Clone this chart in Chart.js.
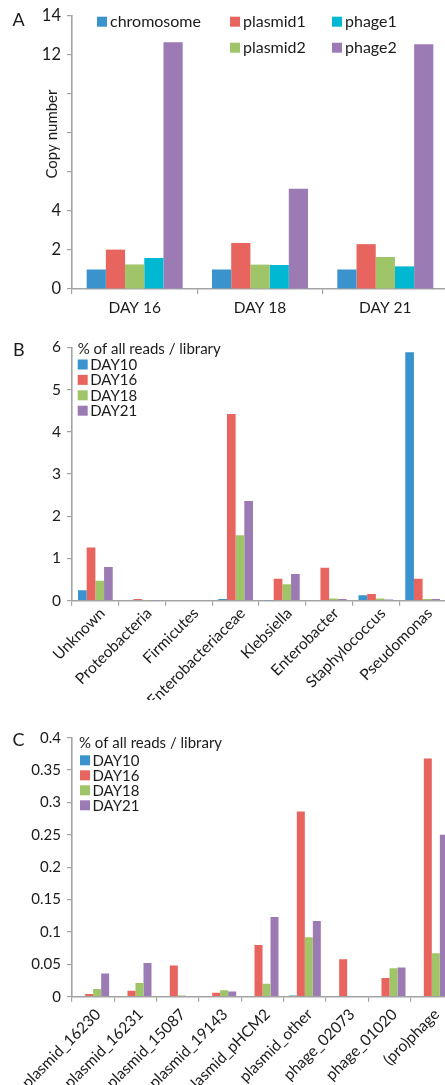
<!DOCTYPE html>
<html>
<head>
<meta charset="utf-8">
<script src="https://cdn.jsdelivr.net/npm/chart.js@4.4.1/dist/chart.umd.min.js"></script>
<style>
  html, body { margin: 0; padding: 0; background: #fff; width: 445px; height: 1085px; overflow: hidden; }
  .panel { position: absolute; left: 0; width: 445px; overflow: hidden; }
  canvas { display: block; }
</style>
</head>
<body>
<div class="panel" style="top:0;height:330px"><canvas id="copyChart" width="448" height="330"></canvas></div>
<div class="panel" style="top:330px;height:370px"><canvas id="taxaChart" width="446" height="370"></canvas></div>
<div class="panel" style="top:700px;height:385px"><canvas id="elemChart" width="453" height="385"></canvas></div>
<script>
// ---- Panel A: copy number per sampling day ----
const copyDays = ['DAY 16', 'DAY 18', 'DAY 21'];
const chromosome = [1.0, 1.0, 1.0];
const plasmid1 = [2.02, 2.36, 2.30];
const plasmid2 = [1.26, 1.25, 1.64];
const phage1 = [1.59, 1.23, 1.16];
const phage2 = [12.65, 5.14, 12.55];
const copyTickLabels = ['0', '2', '4', '12', '14'];

// ---- Panel B: taxa, % of all reads per library ----
const taxa = ['Unknown', 'Proteobacteria', 'Firmicutes', 'Enterobacteriaceae', 'Klebsiella', 'Enterobacter', 'Staphylococcus', 'Pseudomonas'];
const taxaDay10 = [0.25, 0, 0, 0.04, 0.01, 0, 0.13, 5.88];
const taxaDay16 = [1.26, 0.04, 0, 4.42, 0.52, 0.78, 0.16, 0.52];
const taxaDay18 = [0.47, 0.01, 0, 1.55, 0.39, 0.05, 0.05, 0.04];
const taxaDay21 = [0.80, 0.01, 0, 2.36, 0.63, 0.04, 0.03, 0.04];

// ---- Panel C: mobile elements, % of all reads per library ----
const elements = ['plasmid_16230', 'plasmid_16231', 'plasmid_15087', 'plasmid_19143', 'plasmid_pHCM2', 'plasmid_other', 'phage_02073', 'phage_01020', '(pro)phage'];
const elemDay10 = [0, 0, 0, 0, 0, 0.002, 0, 0, 0];
const elemDay16 = [0.004, 0.009, 0.048, 0.006, 0.080, 0.286, 0.058, 0.029, 0.368];
const elemDay18 = [0.012, 0.021, 0.002, 0.010, 0.020, 0.092, 0, 0.044, 0.067];
const elemDay21 = [0.036, 0.052, 0, 0.008, 0.123, 0.117, 0, 0.045, 0.250];

const dayLabels = ['DAY10', 'DAY16', 'DAY18', 'DAY21'];
const legendTitle = '% of all reads / library';

const C = {
  blue: '#3a93cc', red: '#e8655f', green: '#a0c468', cyan: '#00b8d2', purple: '#9c7bb5',
  axis: '#a3a3a3', text: '#1c1a1b'
};
const FAMILY = 'Lato, "Open Sans", sans-serif';

Chart.defaults.font.family = FAMILY;

// Panel letter, free-placed axis title and a slot-based legend
const panelDecor = {
  id: 'panelDecor',
  afterDraw(chart, args, o) {
    const ctx = chart.ctx;
    ctx.save();
    ctx.fillStyle = C.text;
    ctx.textAlign = 'left';
    ctx.textBaseline = 'alphabetic';
    ctx.font = '18px ' + FAMILY;
    ctx.fillText(o.letter, o.letterX, o.letterY);
    if (o.axisTitle) {
      ctx.save();
      ctx.font = o.axisTitle.font;
      ctx.translate(o.axisTitle.x, o.axisTitle.y);
      ctx.rotate(-Math.PI / 2);
      ctx.textAlign = 'center';
      ctx.textBaseline = 'middle';
      ctx.fillText(o.axisTitle.text, 0, 0);
      ctx.restore();
    }
    const L = o.legend;
    ctx.font = L.font;
    ctx.textBaseline = 'middle';
    if (L.title) ctx.fillText(L.title, L.titleX, L.titleY);
    chart.data.datasets.forEach((ds, i) => {
      const [col, row] = L.slots[i];
      const x = L.cols[col];
      const y = L.top + row * L.rowGap;
      ctx.fillStyle = ds.backgroundColor;
      ctx.fillRect(x, y - L.box / 2, L.box, L.box);
      ctx.fillStyle = C.text;
      ctx.fillText(ds.label, x + L.box + L.gap, y + 0.5);
    });
    ctx.restore();
  }
};

function axisStyle(extra) {
  return Object.assign({
    border: { display: true, color: C.axis, width: 1.6 },
    grid: { display: true, drawOnChartArea: false, drawTicks: true, tickLength: 5, color: C.axis, lineWidth: 1.2 }
  }, extra);
}

function barChart(id, labels, datasets, cfg) {
  const xTicks = {
    autoSkip: false,
    maxRotation: cfg.rotation, minRotation: cfg.rotation,
    padding: cfg.xPad,
    font: { size: cfg.xFont },
    color: C.text
  };
  if (cfg.xShift) xTicks.labelOffset = cfg.xShift;
  return new Chart(document.getElementById(id), {
    type: 'bar',
    data: { labels, datasets },
    options: {
      responsive: false,
      animation: false,
      devicePixelRatio: 1,
      layout: { padding: { top: cfg.top, right: 0, bottom: 0, left: 0 } },
      datasets: { bar: { categoryPercentage: cfg.catPct, barPercentage: 1, borderWidth: 0 } },
      plugins: {
        legend: { display: false },
        tooltip: { enabled: false },
        panelDecor: cfg.decor
      },
      scales: {
        x: axisStyle({
          afterFit: (s) => { s.height = cfg.xHeight; },
          ticks: xTicks
        }),
        y: axisStyle({
          min: 0, max: cfg.max,
          afterFit: (s) => { s.width = 72; },
          ticks: {
            stepSize: cfg.step,
            padding: 6,
            font: { size: cfg.yFont },
            color: C.text,
            callback: cfg.yFormat
          }
        })
      }
    },
    plugins: [panelDecor]
  });
}

// Panel A
barChart('copyChart', copyDays, [
  { label: 'chromosome', data: chromosome, backgroundColor: C.blue },
  { label: 'plasmid1', data: plasmid1, backgroundColor: C.red },
  { label: 'plasmid2', data: plasmid2, backgroundColor: C.green },
  { label: 'phage1', data: phage1, backgroundColor: C.cyan },
  { label: 'phage2', data: phage2, backgroundColor: C.purple }
], {
  top: 16, xHeight: 41, catPct: 0.766, rotation: 0, xPad: 5, xShift: 0, xFont: 15.5,
  max: 14, step: 2, yFont: 16.5,
  yFormat: (v) => (copyTickLabels.includes(String(v)) ? String(v) : ''),
  decor: {
    letter: 'A', letterX: 12.5, letterY: 26,
    axisTitle: { text: 'Copy number', x: 52, y: 134, font: '15px ' + FAMILY },
    legend: {
      font: '16px ' + FAMILY, box: 10, gap: 3,
      cols: [97, 230, 332], top: 21.7, rowGap: 26,
      slots: [[0, 0], [1, 0], [1, 1], [2, 0], [2, 1]]
    }
  }
});

// Panel B
barChart('taxaChart', taxa, [
  { label: dayLabels[0], data: taxaDay10, backgroundColor: C.blue },
  { label: dayLabels[1], data: taxaDay16, backgroundColor: C.red },
  { label: dayLabels[2], data: taxaDay18, backgroundColor: C.green },
  { label: dayLabels[3], data: taxaDay21, backgroundColor: C.purple }
], {
  top: 17.3, xHeight: 99.3, catPct: 0.743, rotation: 45, xPad: -1.5, xShift: 7, xFont: 15.5,
  max: 6, step: 1, yFont: 15.5,
  yFormat: (v) => String(v),
  decor: {
    letter: 'B', letterX: 13, letterY: 26,
    legend: {
      font: '15px ' + FAMILY, box: 10, gap: 2.5,
      title: legendTitle, titleX: 77.7, titleY: 19,
      cols: [77.7], top: 34.5, rowGap: 15.4,
      slots: [[0, 0], [0, 1], [0, 2], [0, 3]]
    }
  }
});

// Panel C
barChart('elemChart', elements, [
  { label: dayLabels[0], data: elemDay10, backgroundColor: C.blue },
  { label: dayLabels[1], data: elemDay16, backgroundColor: C.red },
  { label: dayLabels[2], data: elemDay18, backgroundColor: C.green },
  { label: dayLabels[3], data: elemDay21, backgroundColor: C.purple }
], {
  top: 37.7, xHeight: 88.3, catPct: 0.756, rotation: 45, xPad: 3.5, xShift: 5, xFont: 15.5,
  max: 0.4, step: 0.05, yFont: 15,
  yFormat: (v) => String(parseFloat(Number(v).toFixed(2))),
  decor: {
    letter: 'C', letterX: 12.5, letterY: 46,
    legend: {
      font: '15px ' + FAMILY, box: 10, gap: 2.5,
      title: legendTitle, titleX: 79, titleY: 42.7,
      cols: [80], top: 60.3, rowGap: 15,
      slots: [[0, 0], [0, 1], [0, 2], [0, 3]]
    }
  }
});
</script>
</body>
</html>
